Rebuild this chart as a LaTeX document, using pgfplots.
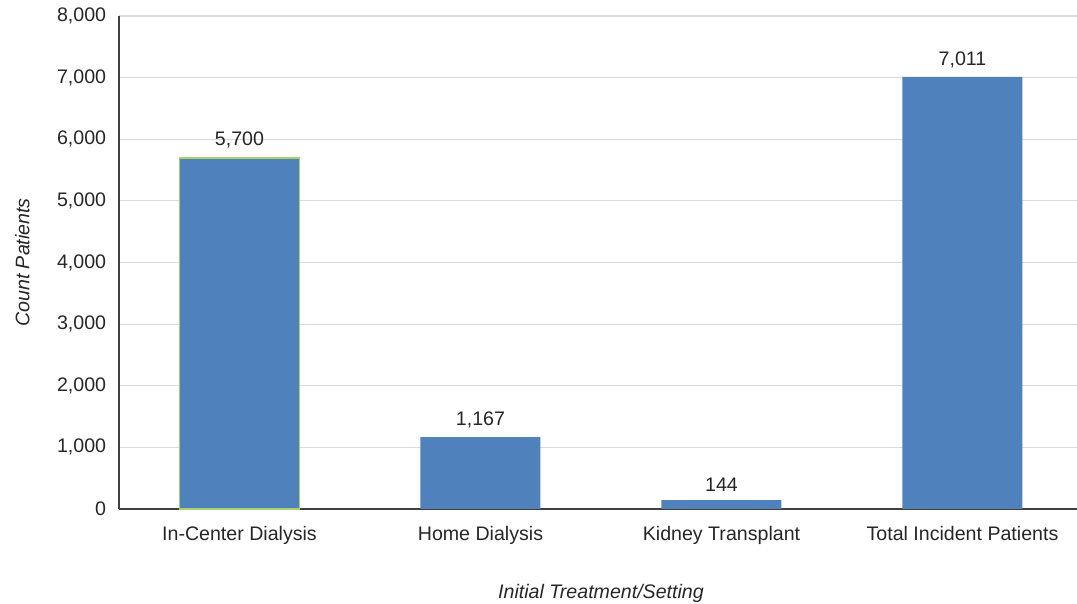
\documentclass[border=0pt]{standalone}
\usepackage{pgfplots}
\pgfplotsset{compat=1.18}
\usepackage{fontspec}
\setmainfont{Liberation Sans}
\definecolor{barblue}{HTML}{4F81BD}
\definecolor{edgegreen}{HTML}{A9D16B}
\definecolor{gridgray}{HTML}{D9D9D9}
\definecolor{axisgray}{HTML}{404040}
\definecolor{txt}{HTML}{262626}
\begin{document}
\fontsize{9.8}{11}\selectfont
\begin{tikzpicture}
\useasboundingbox (-59.5pt,-47.5pt) rectangle (479pt,254.5pt);
\begin{axis}[
  at={(0,0)}, anchor=south west,
  scale only axis,
  width=482pt, height=246.5pt,
  xmin=-0.5, xmax=3.5,
  ymin=0, ymax=8000,
  ytick={0,1000,...,8000},
  xtick={0,1,2,3},
  xticklabels={In-Center Dialysis, Home Dialysis, Kidney Transplant, Total Incident Patients},
  axis x line*=bottom, axis y line*=left,
  axis line style={axisgray, line width=0.7pt},
  separate axis lines,
  x axis line style={-}, y axis line style={-},
  major tick length=0pt,
  ymajorgrids, grid style={gridgray, line width=0.6pt},
  tick label style={font=\fontsize{9.8}{11}\selectfont, text=txt},
  /pgf/number format/assume math mode=true,
  /pgf/number format/1000 sep={,},
  scaled y ticks=false,
  yticklabel style={xshift=-3pt},
  xticklabel style={yshift=-5pt},
  ylabel={\itshape Count Patients},
  xlabel={\itshape Initial Treatment/Setting},
  label style={font=\fontsize{9.8}{11}\selectfont, text=txt},
  ylabel style={yshift=7pt},
  xlabel style={yshift=-13.5pt},
  ybar, bar width=60pt, bar shift=0pt,
  nodes near coords,
  every node near coord/.append style={font=\fontsize{9.8}{11}\selectfont, text=txt, /pgf/number format/assume math mode=true, /pgf/number format/1000 sep={,}, yshift=1pt},
  clip=false,
]
\addplot[fill=barblue, draw=edgegreen, line width=0.9pt] coordinates {(0,5700)};
\addplot[fill=barblue, draw=none] coordinates {(1,1167) (2,144) (3,7011)};
\end{axis}
\end{tikzpicture}
\end{document}
